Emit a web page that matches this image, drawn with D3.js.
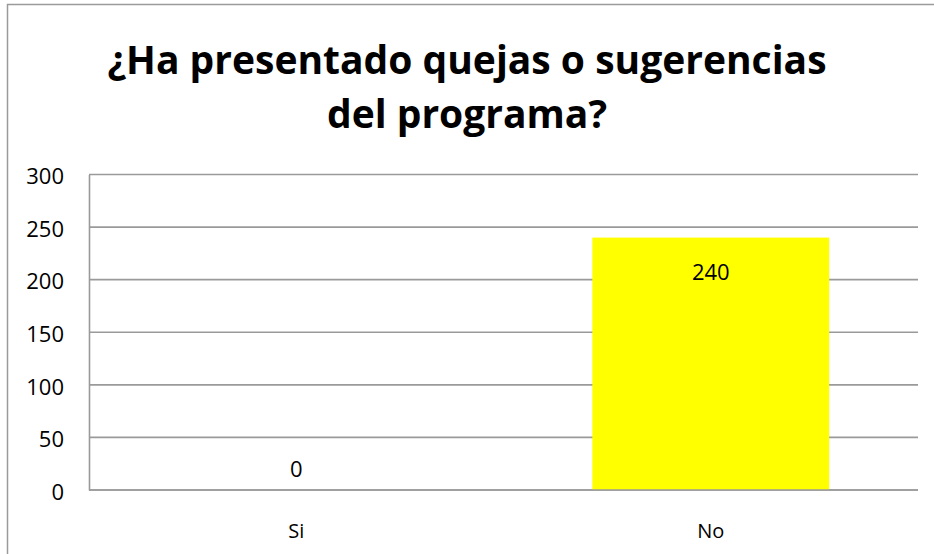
<!DOCTYPE html>
<html>
<head>
<meta charset="utf-8">
<script src="https://cdn.jsdelivr.net/npm/d3@7"></script>
<style>
  body { margin: 0; background: #fff; }
  svg { display: block; }
  text { font-family: "Open Sans", "DejaVu Sans", sans-serif; }
</style>
</head>
<body>
<svg id="chart" width="934" height="554"></svg>
<script>
// chart data
var titleLines = ["¿Ha presentado quejas o sugerencias", "del programa?"];
var categories = ["Si", "No"];
var values = [0, 240];
var yTicks = [0, 50, 100, 150, 200, 250, 300];

var svg = d3.select("#chart");
var plot = { left: 89, right: 918, top: 174.5, bottom: 490 };

// outer frame (right and bottom edges fall outside the window)
svg.append("rect")
	.attr("x", 7.5).attr("y", 4.5)
	.attr("width", 960).attr("height", 600)
	.attr("fill", "#fff")
	.attr("stroke", "#9a9a9a")
	.attr("stroke-width", 1.5);

// title
svg.append("text")
	.attr("text-anchor", "middle")
	.attr("font-weight", "bold")
	.attr("font-size", 39)
	.attr("fill", "#000")
	.selectAll("tspan")
	.data(titleLines)
	.enter().append("tspan")
		.attr("x", 467)
		.attr("y", function(d, i) { return 74 + i * 54; })
		.text(function(d) { return d; });

var x = d3.scaleBand()
	.domain(categories)
	.range([plot.left, plot.right])
	.paddingInner(0.75 / 1.75)
	.paddingOuter(0.75 / 1.75 / 2);

var xCenter = d3.scaleBand()
	.domain(categories)
	.range([plot.left, plot.right]);

var y = d3.scaleLinear()
	.domain([0, 300])
	.range([plot.bottom, plot.top]);

// gridlines
svg.append("g")
	.selectAll("line")
	.data(yTicks)
	.enter().append("line")
		.attr("x1", plot.left).attr("x2", plot.right)
		.attr("y1", function(d) { return y(d); })
		.attr("y2", function(d) { return y(d); })
		.attr("stroke", "#9a9a9a")
		.attr("stroke-width", 1.6);

// bars
svg.append("g")
	.selectAll("rect")
	.data(values)
	.enter().append("rect")
		.attr("x", function(d, i) { return x(categories[i]); })
		.attr("width", x.bandwidth())
		.attr("y", function(d) { return y(d); })
		.attr("height", function(d) { return y(0) - y(d); })
		.attr("fill", "#ffff00");

// redraw the zero line over the bars
svg.append("line")
	.attr("x1", plot.left).attr("x2", plot.right)
	.attr("y1", y(0)).attr("y2", y(0))
	.attr("stroke", "#9a9a9a")
	.attr("stroke-width", 1.6);

// y axis
var yAxis = svg.append("g")
	.attr("transform", "translate(" + plot.left + ",0)")
	.call(d3.axisLeft(y).tickValues(yTicks).tickSize(0).tickPadding(25));
yAxis.select(".domain").attr("stroke", "#9a9a9a").attr("stroke-width", 1.6);
yAxis.selectAll("text").attr("font-size", 22).attr("fill", "#000").attr("dy", "0.42em")
	.style("font-family", '"Open Sans", sans-serif');

// x axis labels
var xAxis = svg.append("g")
	.attr("transform", "translate(0," + plot.bottom + ")")
	.call(d3.axisBottom(xCenter).tickSize(0).tickPadding(34));
xAxis.select(".domain").remove();
xAxis.selectAll("text").attr("font-size", 20).attr("fill", "#000")
	.style("font-family", '"Open Sans", sans-serif');

// data labels
svg.append("g")
	.selectAll("text")
	.data(values)
	.enter().append("text")
		.attr("text-anchor", "middle")
		.attr("font-size", 22)
		.attr("fill", "#000")
		.attr("x", function(d, i) { return xCenter(categories[i]) + xCenter.bandwidth() / 2; })
		.attr("y", function(d) { return d > 0 ? y(d) + 42 : y(d) - 13; })
		.text(function(d) { return d; });
</script>
</body>
</html>
